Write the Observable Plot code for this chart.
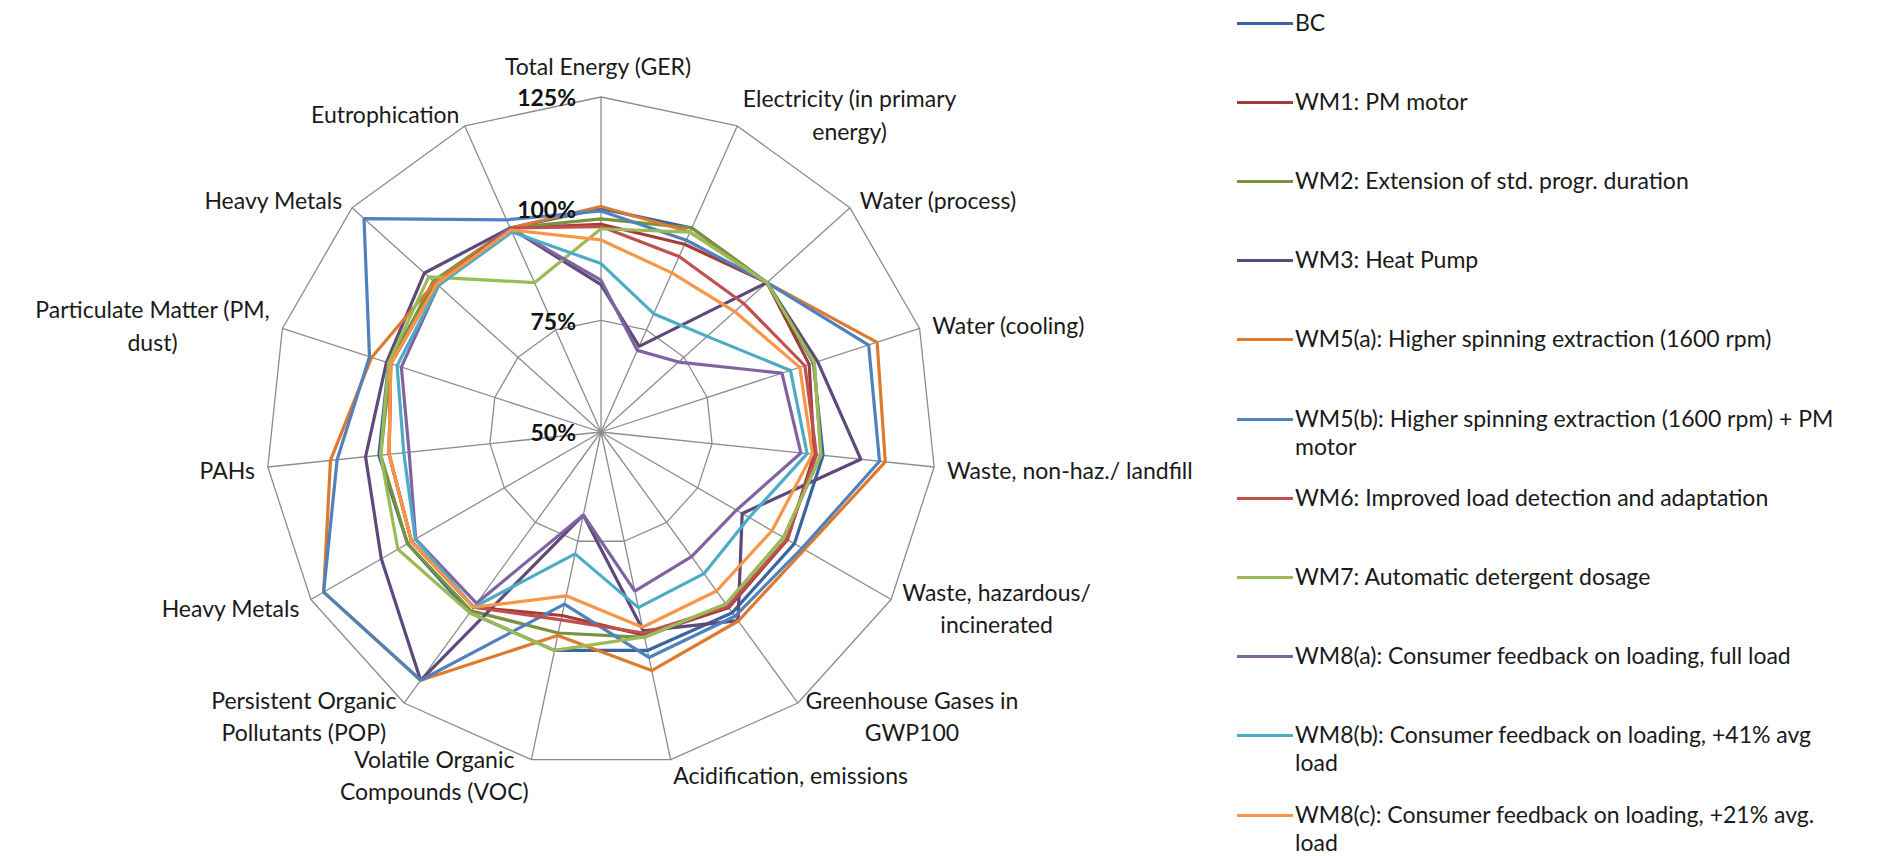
<!DOCTYPE html>
<html><head><meta charset="utf-8">
<script src="https://cdn.jsdelivr.net/npm/d3@7"></script>
<script src="https://cdn.jsdelivr.net/npm/@observablehq/plot@0.6"></script>
<style>
body{margin:0;background:#fff;font-family:Lato,"Liberation Sans",sans-serif;}
#wrap{position:relative;width:1884px;height:856px;overflow:hidden;}
#chart{position:absolute;left:0;top:0;}
#legend{position:absolute;left:1237px;top:0;width:647px;height:856px;}
.item{position:absolute;left:0;display:flex;align-items:flex-start;}
.sw{width:56px;height:3px;margin-top:14px;flex:none;}
.lab{white-space:pre;font-size:23px;line-height:28px;color:#1a1a1a;margin-left:2px;}
</style></head><body><div id="wrap"><div id="chart"></div><div id="legend"></div></div>
<script>
// ---- data ----
const axes = [
  "Total Energy (GER)",
  "Electricity (in primary\nenergy)",
  "Water (process)",
  "Water (cooling)",
  "Waste, non-haz./ landfill",
  "Waste, hazardous/\nincinerated",
  "Greenhouse Gases in\nGWP100",
  "Acidification, emissions",
  "Volatile Organic\nCompounds (VOC)",
  "Persistent Organic\nPollutants (POP)",
  "Heavy Metals",
  "PAHs",
  "Particulate Matter (PM,\ndust)",
  "Heavy Metals",
  "Eutrophication"
];
const seriesNames = ["BC","WM1: PM motor","WM2: Extension of std. progr. duration","WM3: Heat Pump",
  "WM5(a): Higher spinning extraction (1600 rpm)","WM5(b): Higher spinning extraction (1600 rpm) + PM motor",
  "WM6: Improved load detection and adaptation","WM7: Automatic detergent dosage",
  "WM8(a): Consumer feedback on loading, full load","WM8(b): Consumer feedback on loading, +41% avg load",
  "WM8(c): Consumer feedback on loading, +21% avg. load"];
const legendLabels = ["BC","WM1: PM motor","WM2: Extension of std. progr. duration","WM3: Heat Pump",
  "WM5(a): Higher spinning extraction (1600 rpm)","WM5(b): Higher spinning extraction (1600 rpm) + PM\nmotor",
  "WM6: Improved load detection and adaptation","WM7: Automatic detergent dosage",
  "WM8(a): Consumer feedback on loading, full load","WM8(b): Consumer feedback on loading, +41% avg\nload",
  "WM8(c): Consumer feedback on loading, +21% avg.\nload"];
const colors = ["#3A64A0","#A33B38","#77933C","#5F497A","#DD7A2E","#4F81BD","#C0504D","#9BBB59","#8064A2","#4BACC6","#F79646"];

const BC   = [100,100,100,100,100,100,100,100,100,100,100,100,100,100,100];
const WM1  = [96.5,96,100,99,98,98.2,98.6,96.5,92,98.5,99,97.7,99.5,99.5,100];
const WM2  = [97.7,100,100,100.2,99.5,97.2,97.6,97,96,99.5,100,99.6,99.5,100.5,100];
const WM3  = [83,71,100,101,108.5,86.5,102.2,95.5,69,118.7,106.8,103,100.5,103.2,100];
const WM5a = [100.5,99,100,115,114,102.6,102.3,104.6,96.6,118.7,121.7,110.9,104,100,100];
const WM5b = [99.5,97,100,113,112.7,102,101,101.6,89.4,118.7,121.7,109.4,104.5,121.4,102];
const WM6  = [96,93,93,98,98.5,98,98.3,96,93,98.5,99,97.7,99.5,99.5,100];
const WM7  = [95.5,99,100,100.2,99.5,97.2,97.6,96.9,100,100,102.5,99.6,100,101.9,86.6];
const WM8a = [84,70,73.4,92.6,95,85,84.5,86.4,69,97.4,97.9,93.2,97,99,100];
const WM8b = [87.7,79,82,94.6,96.4,88.3,89.2,90.2,77.9,98.5,98,94.4,98,99,99];
const WM8c = [93,89,90.3,96.8,97.6,94.2,94,94.7,87.5,98.5,99,97.7,99.5,99.5,99.5];
const seriesValues = [BC,WM1,WM2,WM3,WM5a,WM5b,WM6,WM7,WM8a,WM8b,WM8c];

const ringValues = [75,100,125];
const tickValues = [50,75,100,125];
const tickLabels = ["50%","75%","100%","125%"];

// ---- layout ----
const rMin = 50, rMax = 125;
const W = 1200, H = 856, cx = 600.5, cy = 431.5, R = 335;
const k = R/(rMax-rMin);               // px per unit
const N = axes.length;
const ang = i => i*2*Math.PI/N;
const px = (i,v) => (v-rMin)*Math.sin(ang(i));
const py = (i,v) => (v-rMin)*Math.cos(ang(i));

const rows = [];
seriesValues.forEach((vals,s)=>vals.forEach((v,i)=>rows.push({s:seriesNames[s],i,v,x:px(i,v),y:py(i,v)})));
const rings = [];
ringValues.forEach(t=>axes.forEach((a,i)=>rings.push({t,x:px(i,t),y:py(i,t)})));
const spokes = axes.map((a,i)=>({x2:px(i,rMax),y2:py(i,rMax)}));

// label placement
const fontSize = 23, font = `${fontSize}px Lato`;
const ctx = document.createElement("canvas").getContext("2d"); ctx.font = font;
const labs = axes.map((a,i)=>{
  const s = Math.sin(ang(i)), c = Math.cos(ang(i));
  const w = Math.max(...a.split("\n").map(l=>ctx.measureText(l).width));
  const vx = px(i,rMax), vy = py(i,rMax);
  let ox, oy;
  if (Math.abs(s) < 0.05) { ox = -3; oy = 32; }
  else { const edge = 13*Math.abs(s); ox = Math.sign(s)*(edge + w/2); oy = 14*c; }
  return {label:a, x: vx + ox/k, y: vy + oy/k};
});

const chart = Plot.plot({
  width: W, height: H, margin: 0,
  x: {domain: [-cx/k, (W-cx)/k], range: [0, W], axis: null},
  y: {domain: [-(H-cy)/k, cy/k], range: [H, 0], axis: null},
  color: {domain: seriesNames, range: colors},
  marks: [
    Plot.link(spokes, {x1: 0, y1: 0, x2: "x2", y2: "y2", stroke: "#8c8c8c", strokeWidth: 1.3}),
    Plot.line(rings, {x: "x", y: "y", z: "t", curve: "linear-closed", stroke: "#8c8c8c", strokeWidth: 1.3}),
    Plot.line(rows, {x: "x", y: "y", z: "s", stroke: "s", curve: "linear-closed", strokeWidth: 3.2, strokeLinejoin: "miter"}),
    Plot.text(tickValues, {x: 0, y: d => d - rMin, text: (d,j) => tickLabels[j], textAnchor: "end", dx: -25, dy: 2,
      fontSize: 23, fontWeight: "bold", fill: "#111", fontFamily: "Lato"}),
    Plot.text(labs, {x: "x", y: "y", text: "label", textAnchor: "middle", lineAnchor: "middle", lineHeight: 1.4,
      fontSize, fontFamily: "Lato", fill: "#1a1a1a"})
  ]
});
document.getElementById("chart").appendChild(chart);

// legend
const leg = document.getElementById("legend");
legendLabels.forEach((l,i)=>{
  const d = document.createElement("div"); d.className="item"; d.style.top = (21.6 - 14 + i*79.2)+"px";
  const sw = document.createElement("div"); sw.className="sw"; sw.style.background = colors[i];
  const t = document.createElement("div"); t.className="lab"; t.textContent = l;
  d.appendChild(sw); d.appendChild(t); leg.appendChild(d);
});
</script></body></html>
